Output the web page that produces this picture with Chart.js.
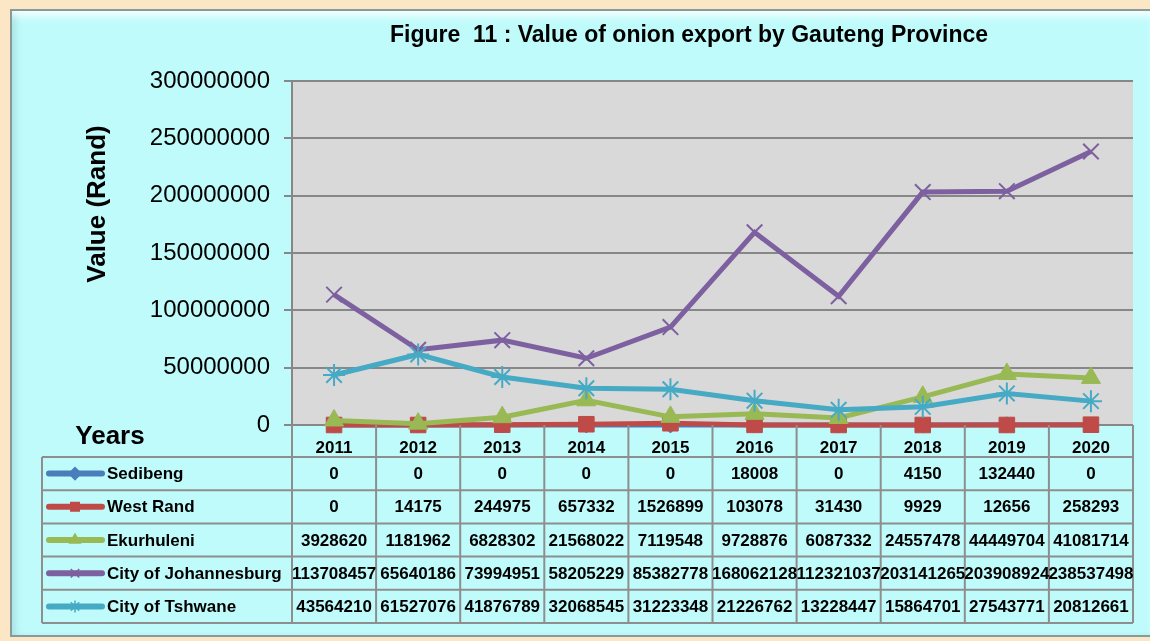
<!DOCTYPE html>
<html>
<head>
<meta charset="utf-8">
<script src="https://cdn.jsdelivr.net/npm/chart.js@4.4.1/dist/chart.umd.min.js"></script>
<style>
  html, body { margin: 0; padding: 0; }
  body { width: 1150px; height: 641px; background: #fbe6c6; position: relative; overflow: hidden; }
  #panel {
    position: absolute; left: 10px; top: 9px; width: 1140px; height: 628px;
    background: #c0fbfb;
    border-top: 2px solid #8a9a9a; border-left: 2px solid #8a9a9a; border-bottom: 2px solid #8a9a9a;
    box-shadow: inset 0 10px 10px -6px #ffffff, inset 6px 0 8px -4px #9ad8d8;
    box-sizing: border-box;
  }
  #canvas { position: absolute; left: 0; top: 0; }
</style>
</head>
<body>
<div id="panel"></div>
<canvas id="canvas" width="1150" height="641"></canvas>
<script>
"use strict";

// values
const years = ['2011', '2012', '2013', '2014', '2015', '2016', '2017', '2018', '2019', '2020'];
const sedibeng = [0, 0, 0, 0, 0, 18008, 0, 4150, 132440, 0];
const westRand = [0, 14175, 244975, 657332, 1526899, 103078, 31430, 9929, 12656, 258293];
const ekurhuleni = [3928620, 1181962, 6828302, 21568022, 7119548, 9728876, 6087332, 24557478, 44449704, 41081714];
const joburg = [113708457, 65640186, 73994951, 58205229, 85382778, 168062128, 112321037, 203141265, 203908924, 238537498];
const tshwane = [43564210, 61527076, 41876789, 32068545, 31223348, 21226762, 13228447, 15864701, 27543771, 20812661];
const yTicks = [0, 50000000, 100000000, 150000000, 200000000, 250000000, 300000000];

const FONT = '"Liberation Sans", Arial, sans-serif';
const gridGrey = '#878787';
const tableGrey = '#8e8e8e';

function makeSet(label, data, color, style, radius, order) {
    let open = style === 'crossRot' || style === 'star';
    return {
        label: label,
        data: data,
        borderColor: color,
        backgroundColor: color,
        borderWidth: 5,
        pointStyle: style,
        pointRadius: radius,
        pointHoverRadius: radius,
        pointBorderWidth: open ? 2 : 1,
        pointBorderColor: color,
        pointBackgroundColor: color,
        tension: 0,
        clip: false,
        order: order
    };
}

const datasets = [
    makeSet('Sedibeng', sedibeng, '#4a7ebb', 'rectRot', 8, 5),
    makeSet('West Rand', westRand, '#be4b48', 'rect', 11, 4),
    makeSet('Ekurhuleni', ekurhuleni, '#98b954', 'triangle', 11, 3),
    makeSet('City of Johannesburg', joburg, '#7d60a0', 'crossRot', 11, 2),
    makeSet('City of Tshwane', tshwane, '#46aac5', 'star', 11, 1)
];

// plot background
const plotBackground = {
    id: 'plotBackground',
    beforeDraw(chart) {
        let ctx = chart.ctx;
        let a = chart.chartArea;
        ctx.save();
        ctx.fillStyle = '#d9d9d9';
        ctx.fillRect(a.left, a.top, a.right - a.left, a.bottom - a.top);
        ctx.restore();
    }
};

// titles and the data table below the axis
const dataTable = {
    id: 'dataTable',
    afterDraw(chart) {
        let ctx = chart.ctx;
        let a = chart.chartArea;
        let xs = chart.scales.x;
        let half = (xs.getPixelForValue(1) - xs.getPixelForValue(0)) / 2;
        let tableLeft = 42;
        let rowTop = 457;
        let rowH = 33.2;
        let tableBottom = rowTop + rowH * datasets.length;

        ctx.save();
        ctx.fillStyle = '#000';
        ctx.textBaseline = 'middle';

        ctx.font = 'bold 23px ' + FONT;
        ctx.textAlign = 'center';
        ctx.fillText('Figure  11 : Value of onion export by Gauteng Province', 689, 36);

        ctx.font = 'bold 26px ' + FONT;
        ctx.fillText('Years', 110, 437);

        ctx.save();
        ctx.translate(98, 204);
        ctx.rotate(-Math.PI / 2);
        ctx.fillText('Value (Rand)', 0, 0);
        ctx.restore();

        // grid of the table
        ctx.strokeStyle = tableGrey;
        ctx.lineWidth = 2;
        ctx.beginPath();
        for (let i = 0; i <= years.length; i++) {
            let x = xs.getPixelForValue(0) - half + i * 2 * half;
            ctx.moveTo(x, a.bottom);
            ctx.lineTo(x, tableBottom);
        }
        ctx.moveTo(tableLeft, rowTop);
        ctx.lineTo(tableLeft, tableBottom);
        for (let r = 0; r <= datasets.length; r++) {
            let y = rowTop + r * rowH;
            ctx.moveTo(tableLeft, y);
            ctx.lineTo(a.right, y);
        }
        ctx.stroke();

        // rows
        datasets.forEach((ds, r) => {
            let cy = rowTop + r * rowH + rowH / 2;
            ctx.strokeStyle = ds.borderColor;
            ctx.lineWidth = 6;
            ctx.lineCap = 'round';
            ctx.beginPath();
            ctx.moveTo(49, cy);
            ctx.lineTo(102, cy);
            ctx.stroke();
            ctx.lineCap = 'butt';
            ctx.fillStyle = ds.borderColor;
            ctx.lineWidth = 1.5;
            Chart.helpers.drawPoint(ctx, { pointStyle: ds.pointStyle, radius: 6, rotation: 0, borderWidth: 1.5 }, 75, cy);

            ctx.fillStyle = '#000';
            ctx.font = 'bold 17px ' + FONT;
            ctx.textAlign = 'left';
            ctx.fillText(ds.label, 107, cy + 1);
            ctx.textAlign = 'center';
            ds.data.forEach((v, i) => {
                ctx.fillText(String(v), xs.getPixelForValue(i), cy + 1);
            });
        });
        ctx.restore();
    }
};

new Chart(document.getElementById('canvas'), {
    type: 'line',
    data: { labels: years, datasets: datasets },
    options: {
        responsive: false,
        devicePixelRatio: 1,
        animation: false,
        events: [],
        layout: { padding: { left: 0, right: 17, top: 81, bottom: 0 } },
        plugins: {
            legend: { display: false },
            title: { display: false },
            tooltip: { enabled: false }
        },
        scales: {
            x: {
                offset: true,
                afterFit(s) { s.height = 641 - 425; },
                grid: { display: false },
                border: { display: false },
                ticks: {
                    color: '#000',
                    padding: 5,
                    maxRotation: 0,
                    font: { family: FONT, size: 17, weight: 'bold' }
                }
            },
            y: {
                min: 0,
                max: 300000000,
                afterFit(s) { s.width = 292; },
                afterBuildTicks(s) { s.ticks = yTicks.map(v => ({ value: v })); },
                grid: { color: gridGrey, lineWidth: 2, tickLength: 8 },
                border: { display: true, color: gridGrey, width: 2 },
                ticks: {
                    color: '#000',
                    padding: 14,
                    font: { family: FONT, size: 24 },
                    callback: v => String(v)
                }
            }
        }
    },
    plugins: [plotBackground, dataTable]
});
</script>
</body>
</html>
